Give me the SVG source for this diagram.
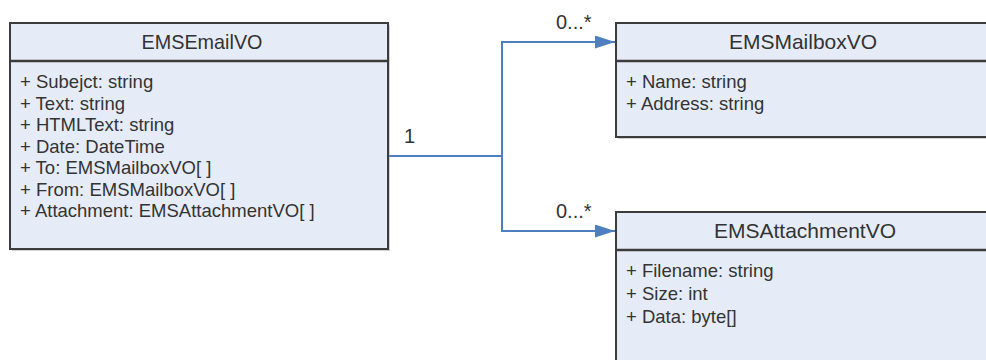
<svg xmlns="http://www.w3.org/2000/svg" width="986" height="360" viewBox="0 0 986 360">
  <style>
    .box { fill: #e6ecf7; stroke: #3c3c3c; stroke-width: 2; }
    .shadow { fill: #9a9a9a; opacity: 0.45; }
    .sep { stroke: #3c3c3c; stroke-width: 2.5; }
    .title { font-family: "Liberation Sans", Arial, sans-serif; font-size: 21px; fill: #333; text-anchor: middle; }
    .attr { font-family: "Liberation Sans", Arial, sans-serif; font-size: 18.5px; fill: #333; }
    .edge { fill: none; stroke: #4f7fc0; stroke-width: 2; }
    .mult { font-family: "Liberation Sans", Arial, sans-serif; font-size: 20px; fill: #333; }
  </style>
  <defs>
    <marker id="arrow" markerWidth="20" markerHeight="13" refX="20" refY="6.5" orient="auto" markerUnits="userSpaceOnUse">
      <path d="M0,0 L20,6.5 L0,13 Z" fill="#4f7fc0"/>
    </marker>
  </defs>
  <rect width="986" height="360" fill="#ffffff"/>

  <g id="connectors">
    <path class="edge" d="M388,156 H502 V42 H615" marker-end="url(#arrow)"/>
    <path class="edge" d="M502,156 V231 H615" marker-end="url(#arrow)"/>
    <text class="mult" x="404" y="143">1</text>
    <text class="mult" x="556" y="29">0...*</text>
    <text class="mult" x="556" y="218">0...*</text>
  </g>

  <g id="EMSEmailVO">
    <rect class="shadow" x="12" y="25" width="378" height="226"/>
    <rect class="box" x="10" y="23" width="378" height="226"/>
    <line class="sep" x1="10" y1="61" x2="388" y2="61"/>
    <text class="title" x="202" y="49" textLength="121" lengthAdjust="spacingAndGlyphs">EMSEmailVO</text>
    <text class="attr" x="20" y="88">+ Subejct: string</text>
    <text class="attr" x="20" y="109.5">+ Text: string</text>
    <text class="attr" x="20" y="131">+ HTMLText: string</text>
    <text class="attr" x="20" y="152.5">+ Date: DateTime</text>
    <text class="attr" x="20" y="174">+ To: EMSMailboxVO[ ]</text>
    <text class="attr" x="20" y="195.5">+ From: EMSMailboxVO[ ]</text>
    <text class="attr" x="20" y="217">+ Attachment: EMSAttachmentVO[ ]</text>
  </g>

  <g id="EMSMailboxVO">
    <rect class="shadow" x="618" y="25" width="380" height="114"/>
    <rect class="box" x="616" y="23" width="380" height="114"/>
    <line class="sep" x1="616" y1="61" x2="996" y2="61"/>
    <text class="title" x="803" y="49">EMSMailboxVO</text>
    <text class="attr" x="626" y="88">+ Name: string</text>
    <text class="attr" x="626" y="110">+ Address: string</text>
  </g>

  <g id="EMSAttachmentVO">
    <rect class="shadow" x="618" y="214" width="380" height="160"/>
    <rect class="box" x="616" y="212" width="380" height="160"/>
    <line class="sep" x1="616" y1="250" x2="996" y2="250"/>
    <text class="title" x="805" y="238">EMSAttachmentVO</text>
    <text class="attr" x="626" y="277">+ Filename: string</text>
    <text class="attr" x="626" y="300">+ Size: int</text>
    <text class="attr" x="626" y="323">+ Data: byte[]</text>
  </g>
</svg>
